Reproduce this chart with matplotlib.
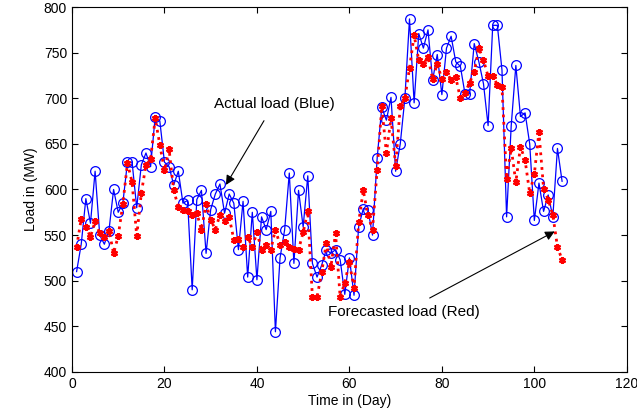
import numpy as np
import matplotlib
matplotlib.use('Agg')
import matplotlib.pyplot as plt

# actual load (blue circles), day 1..106
actual = [510, 540, 590, 563, 620, 550, 540, 555, 600, 575,
          585, 630, 630, 580, 627, 640, 625, 680, 675, 630,
          625, 605, 620, 585, 588, 490, 589, 599, 530, 578,
          595, 606, 574, 595, 585, 534, 587, 504, 575, 501,
          570, 556, 576, 444, 525, 556, 618, 519, 599, 559,
          615, 519, 504, 517, 534, 530, 534, 523, 485, 525,
          484, 559, 579, 578, 550, 634, 690, 676, 701, 620,
          650, 700, 787, 695, 771, 755, 775, 720, 748, 704,
          755, 768, 740, 735, 705, 705, 760, 740, 716, 670,
          780, 780, 731, 570, 670, 736, 680, 684, 650, 566,
          607, 576, 594, 570, 645, 609]

# forecasted load (red stars)
forecast = [537, 568, 559, 548, 565, 552, 548, 555, 530, 549,
            584, 629, 608, 549, 596, 627, 633, 678, 649, 621,
            644, 599, 581, 577, 576, 572, 574, 556, 584, 567,
            556, 572, 565, 570, 545, 546, 537, 548, 537, 553,
            534, 539, 534, 556, 539, 542, 537, 535, 534, 553,
            576, 482, 482, 509, 541, 515, 552, 482, 498, 520,
            492, 564, 599, 572, 556, 621, 691, 640, 678, 626,
            691, 700, 733, 769, 742, 738, 745, 721, 738, 721,
            729, 720, 723, 700, 706, 717, 729, 755, 742, 724,
            724, 715, 712, 612, 645, 608, 647, 632, 596, 617,
            663, 601, 589, 572, 537, 523]

days = np.arange(1, len(actual) + 1)

plt.rcParams['font.family'] = ['Liberation Sans', 'DejaVu Sans']

fig = plt.figure(figsize=(6.37, 4.16), dpi=100)
ax = fig.add_axes([0.113, 0.106, 0.871, 0.877])

ax.plot(days, actual, color='blue', lw=0.9, marker='o', ms=7,
        mfc='none', mec='blue', mew=0.9)
ax.plot(days, forecast, color='red', lw=2, ls=':', marker=(6, 2, 0),
        ms=5, mec='red', mew=1.6)

ax.set_xlim(0, 120)
ax.set_ylim(400, 800)
ax.set_xticks(range(0, 121, 20))
ax.set_yticks(range(400, 801, 50))
ax.tick_params(direction='in', top=True, right=True, labelsize=10,
               length=4, width=0.8)
for s in ax.spines.values():
    s.set_linewidth(0.8)

ax.set_xlabel('Time in (Day)', fontsize=10, labelpad=2)
ax.set_ylabel('Load in (MW)', fontsize=10, labelpad=4)

ax.annotate('Actual load (Blue)', xy=(33.3, 605), xytext=(43.7, 694),
            ha='center', va='center', fontsize=11,
            arrowprops=dict(arrowstyle='-|>', color='black', lw=0.8,
                            mutation_scale=14, shrinkA=6, shrinkB=0))
ax.annotate('Forecasted load (Red)', xy=(104.4, 554), xytext=(71.8, 466),
            ha='center', va='center', fontsize=11,
            arrowprops=dict(arrowstyle='-|>', color='black', lw=0.8,
                            mutation_scale=14, shrinkA=6, shrinkB=0))

fig.savefig('out.png', dpi=100)
